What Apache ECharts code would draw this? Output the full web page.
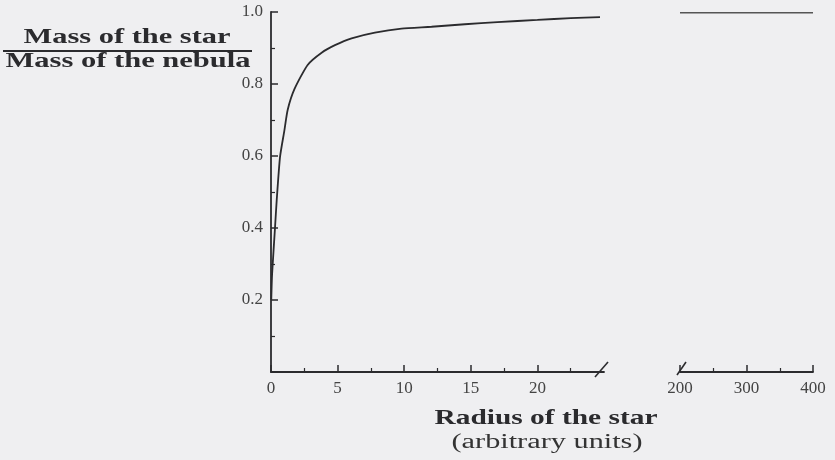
<!DOCTYPE html>
<html>
<head>
<meta charset="utf-8">
<script src="https://cdn.jsdelivr.net/npm/echarts@6/dist/echarts.min.js"></script>
<style>
html,body{margin:0;padding:0;background:#efeff1;}
#c{width:835px;height:460px;}
</style>
</head>
<body>
<div id="c"></div>
<script>
// Data
const radiusLeft = [0.02, 0.08, 0.3, 0.43, 0.68, 1.0, 1.25, 1.75, 2.75, 3.8, 4.8, 6.05, 7.8, 9.8, 12.05, 14.55, 17, 20, 22.5, 24.7];
const massLeft   = [0.20, 0.27, 0.40, 0.478, 0.598, 0.67, 0.728, 0.785, 0.853, 0.887, 0.908, 0.927, 0.943, 0.954, 0.959, 0.966, 0.972, 0.978, 0.983, 0.986];
const radiusRight = [200, 400];
const massRight   = [0.998, 0.998];
const xTicksLeft = [0, 5, 10, 15, 20];
const xTicksRight = [200, 300, 400];
const yTicks = [0.2, 0.4, 0.6, 0.8, 1.0];

const FONT = 'Liberation Serif';
const INK = '#2b2b2e';

const chart = echarts.init(document.getElementById('c'), null, {renderer: 'canvas'});

const axisCommon = {
  axisLine: {show: true, lineStyle: {color: INK, width: 1.8}},
  axisTick: {show: true, inside: true, length: 7, lineStyle: {color: INK, width: 1.5}},
  minorTick: {show: true, splitNumber: 2, length: 4, lineStyle: {color: INK, width: 1.2}},
  splitLine: {show: false},
  minorSplitLine: {show: false},
  axisLabel: {color: '#444', fontFamily: FONT, fontSize: 17, margin: 8}
};

const option = {
  backgroundColor: '#efeff1',
  animation: false,
  grid: [
    {left: 271, top: 12, width: 333, height: 360},
    {left: 680, top: 12, width: 133, height: 360}
  ],
  xAxis: [
    Object.assign({}, axisCommon, {
      type: 'value', gridIndex: 0, min: 0, max: 25, interval: 5,
      axisTick: Object.assign({}, axisCommon.axisTick, {customValues: xTicksLeft}),
      axisLabel: Object.assign({}, axisCommon.axisLabel, {customValues: xTicksLeft})
    }),
    Object.assign({}, axisCommon, {
      type: 'value', gridIndex: 1, min: 200, max: 400, interval: 100,
      axisTick: Object.assign({}, axisCommon.axisTick, {customValues: xTicksRight}),
      axisLabel: Object.assign({}, axisCommon.axisLabel, {customValues: xTicksRight})
    })
  ],
  yAxis: [
    Object.assign({}, axisCommon, {
      type: 'value', gridIndex: 0, min: 0, max: 1, interval: 0.2,
      axisLabel: Object.assign({}, axisCommon.axisLabel, {
        customValues: yTicks,
        formatter: v => v.toFixed(1)
      })
    }),
    {type: 'value', gridIndex: 1, min: 0, max: 1, show: false}
  ],
  series: [
    {
      type: 'line', xAxisIndex: 0, yAxisIndex: 0,
      data: radiusLeft.map((r, i) => [r, massLeft[i]]),
      showSymbol: false, smooth: 0.2,
      lineStyle: {color: INK, width: 1.8}
    },
    {
      type: 'line', xAxisIndex: 1, yAxisIndex: 1,
      data: radiusRight.map((r, i) => [r, massRight[i]]),
      showSymbol: false,
      lineStyle: {color: '#555', width: 1.5}
    }
  ]
};
chart.setOption(option);

// Measure text to stretch the loosely spaced scanned titles to their widths
const mctx = document.createElement('canvas').getContext('2d');
function fitText(text, font, cx, cy, targetW, fill) {
  mctx.font = font;
  const w = mctx.measureText(text).width;
  return {type: 'text', x: cx, y: cy, scaleX: targetW / w, scaleY: 1,
    style: {text: text, font: font, fill: fill, textAlign: 'center', textVerticalAlign: 'middle', x: 0, y: 0}};
}
const TF = 'bold 21px "Liberation Serif"';

// Decorations: axis names and break marks
const pL = chart.convertToPixel({gridIndex: 0}, [25, 0]);
const pR = chart.convertToPixel({gridIndex: 1}, [200, 0]);
chart.setOption({
  graphic: [
    fitText('Mass of the star', TF, 127, 38, 207, INK),
    {type: 'line', shape: {x1: 3, y1: 51, x2: 252, y2: 51}, style: {stroke: INK, lineWidth: 2}},
    fitText('Mass of the nebula', TF, 128, 62, 245, INK),
    fitText('Radius of the star', TF, 546, 419, 223, INK),
    fitText('(arbitrary units)', '20px "Liberation Serif"', 547, 443, 191, '#333'),
    {type: 'line', shape: {x1: pL[0] - 9, y1: pL[1] + 5, x2: pL[0] + 4, y2: pL[1] - 10}, style: {stroke: INK, lineWidth: 1.6}},
    {type: 'line', shape: {x1: pR[0] - 3, y1: pR[1] + 3, x2: pR[0] + 6, y2: pR[1] - 10}, style: {stroke: INK, lineWidth: 1.6}}
  ]
});
</script>
</body>
</html>
